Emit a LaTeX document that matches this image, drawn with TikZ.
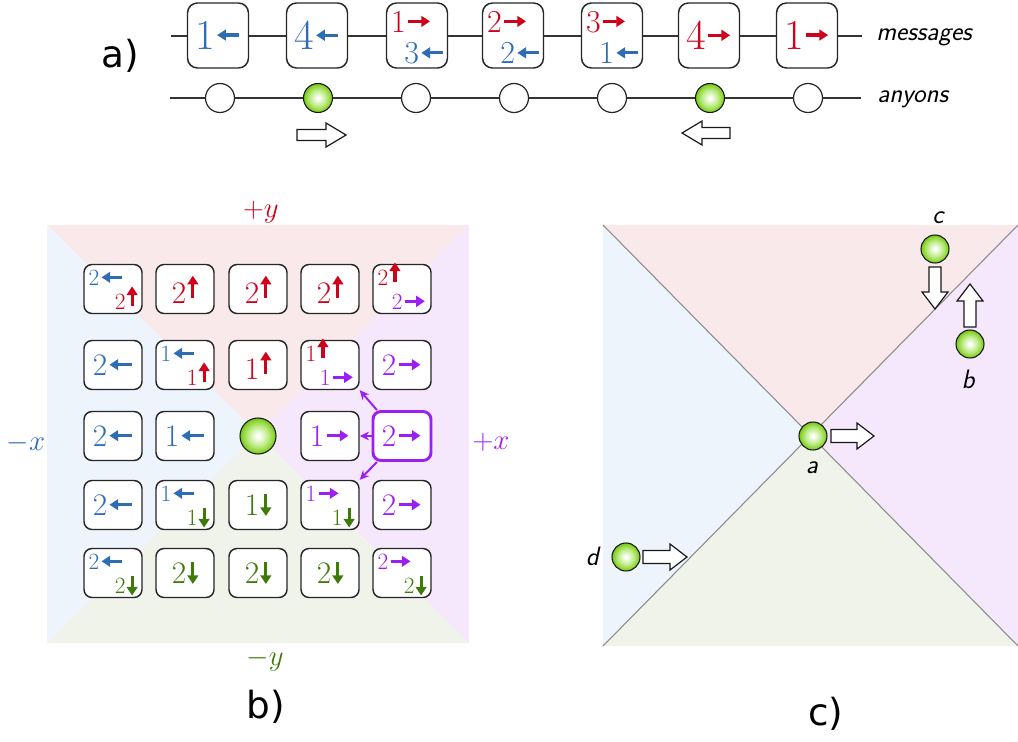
\documentclass[tikz,border=0pt]{standalone}
\usepackage{fontspec}
\newfontfamily\labfont{DejaVu Sans}
\usetikzlibrary{arrows.meta,calc}
\definecolor{cblue}{HTML}{2E6DB4}
\definecolor{cred}{HTML}{D0021B}
\definecolor{cpurple}{HTML}{9B1FF0}
\definecolor{cgreen}{HTML}{3E7A0A}
\definecolor{bgred}{HTML}{FAE9EA}
\definecolor{bgblue}{HTML}{EDF4FC}
\definecolor{bgpurple}{HTML}{F6E8FC}
\definecolor{bggreen}{HTML}{F0F3EA}
\definecolor{ballA}{HTML}{BDEB86}
\definecolor{ballB}{HTML}{8AD42C}
\definecolor{ballC}{HTML}{76C01E}
\definecolor{linegray}{HTML}{8C8C8C}
\pgfdeclareradialshading{anyonshade}{\pgfpoint{0bp}{0bp}}{color(0bp)=(white); color(2bp)=(white); color(14bp)=(ballA); color(22bp)=(ballB); color(25bp)=(ballC); color(50bp)=(ballC)}
\def\alen{16.5pt}
\tikzset{marr/.style={line width=2.4pt}}
\newcommand\mL[2]{{\color{#1}#2}\kern0.5pt\tikz[baseline=0pt]\draw[marr,draw=#1,-{Triangle[length=6.5pt,width=8pt,fill=#1]}] (\alen,0.34em) -- (0pt,0.34em);}
\newcommand\mR[2]{{\color{#1}#2}\kern0.5pt\tikz[baseline=0pt]\draw[marr,draw=#1,-{Triangle[length=6.5pt,width=8pt,fill=#1]}] (0pt,0.34em) -- (\alen,0.34em);}
\newcommand\mU[2]{{\color{#1}#2}\kern1pt\tikz[baseline=0pt]\draw[marr,draw=#1,-{Triangle[length=6.5pt,width=8pt,fill=#1]}] (0pt,{0.55em-0.5*\alen}) -- (0pt,{0.55em+0.5*\alen});}
\newcommand\mD[2]{{\color{#1}#2}\kern1pt\tikz[baseline=0pt]\draw[marr,draw=#1,-{Triangle[length=6.5pt,width=8pt,fill=#1]}] (0pt,{0.33em+0.5*\alen}) -- (0pt,{0.33em-0.5*\alen});}
\newcommand\fA{\fontsize{32}{32}\selectfont}
\newcommand\fa{\fontsize{24}{24}\selectfont}
\newcommand\fB{\fontsize{23.5}{23.5}\selectfont}
\newcommand\fb{\fontsize{17.5}{17.5}\selectfont\def\alen{15pt}}
\newcommand\axl[1]{\scalebox{1.25}{$#1$}}
\tikzset{
  wire/.style={draw=black!80, line width=0.9pt},
  boxA/.style={draw=black!85, line width=1.1pt, fill=white, rounded corners=7.5pt, minimum width=45.75pt, minimum height=48.75pt, inner sep=0pt},
  boxB/.style={draw=black!85, line width=1.1pt, fill=white, rounded corners=6pt, minimum width=43.5pt, minimum height=36.75pt, inner sep=0pt},
  hibox/.style={boxB, draw=cpurple, line width=2.2pt},
  txt/.style={inner sep=0pt, anchor=center},
  emptyan/.style={circle, draw=black!85, line width=0.9pt, fill=white, inner sep=0pt, minimum size=21.75pt},
  anyon/.style={circle, draw=black!90, line width=0.8pt, shade, shading=anyonshade, inner sep=0pt, minimum size=#1},
  lab/.style={inner sep=0pt, font={\fontsize{20}{20}\selectfont\sffamily\itshape}},
  panel/.style={inner sep=0pt, font={\labfont\fontsize{28}{28}\selectfont}},
  axis/.style={inner sep=0pt, anchor=base, font={\fontsize{17.28}{17.28}\selectfont}},
  parr/.style={draw=cpurple, line width=1.5pt, -{Stealth[length=7pt,width=6.5pt]}},
  glines/.style={draw=linegray, line width=0.8pt},
  pics/barrow/.style n args={4}{code={
    \draw[fill=white, draw=black!90, line width=0.9pt, line join=miter]
      (0,-#2) -- ({#1-#4},-#2) -- ({#1-#4},-#3) -- (#1,0) -- ({#1-#4},#3) -- ({#1-#4},#2) -- (0,#2) -- cycle;}}
}
\newcommand\one[2]{\node[txt] (#1t) at (#1) {\fB #2};}
\newcommand\two[3]{\node[txt,anchor=base west] (#1f) at ($(#1.north west)+(5,21.5)$) {\fb #2};
  \node[txt,anchor=base east] (#1s) at ($(#1.south east)+(-5,-5)$) {\fb #3};}
\begin{document}
\begin{tikzpicture}[x=0.75pt,y=-0.75pt]
\useasboundingbox (0,0) rectangle (1018,742);
% ---------------- panel a
\node[panel, anchor=base] (pa) at (120,68) {a)};
\coordinate (msL) at (171,36); \coordinate (msR) at (862,36);
\draw[wire] (msL) -- (msR);
\coordinate (anL) at (170,98); \coordinate (anR) at (861,98);
\draw[wire] (anL) -- (anR);
\foreach \i/\x in {1/218,2/317,3/417,4/513,5/612,6/709,7/807}
  \node[boxA] (m\i) at (\x,35.5) {};
\foreach \i/\x in {1/220,3/416,4/514,5/612,7/808}
  \node[emptyan] (n\i) at (\x,98) {};
\node[anyon=21.75pt] (n2) at (318,98) {};
\node[anyon=21.75pt] (n6) at (710,98) {};
\node[txt] (t1) at (m1) {\fA\mL{cblue}{1}};
\node[txt] (t2) at (m2) {\fA\mL{cblue}{4}};
\node[txt,anchor=base west] (t3a) at ($(m3.north west)+(5,30)$) {\fa\mR{cred}{1}};
\node[txt,anchor=base east] (t3b) at ($(m3.south east)+(-3,-5)$) {\fa\mL{cblue}{3}};
\node[txt,anchor=base west] (t4a) at ($(m4.north west)+(5,30)$) {\fa\mR{cred}{2}};
\node[txt,anchor=base east] (t4b) at ($(m4.south east)+(-3,-5)$) {\fa\mL{cblue}{2}};
\node[txt,anchor=base west] (t5a) at ($(m5.north west)+(5,30)$) {\fa\mR{cred}{3}};
\node[txt,anchor=base east] (t5b) at ($(m5.south east)+(-3,-5)$) {\fa\mL{cblue}{1}};
\node[txt] (t6) at (m6) {\fA\mR{cred}{4}};
\node[txt] (t7) at (m7) {\fA\mR{cred}{1}};
\node[lab, anchor=base west] (lmsg) at (876,41) {messages};
\node[lab, anchor=base west] (lany) at (877,103) {anyons};
\pic at (297,135) {barrow={49}{5.5}{12}{20}};
\pic[rotate=180] at (730,133) {barrow={48}{5.5}{12}{20}};
% ---------------- panel b
\fill[bgred] (47,225) -- (469,225) -- (258,434) -- cycle;
\fill[bgblue] (47,225) -- (47,643) -- (258,434) -- cycle;
\fill[bgpurple] (469,225) -- (469,643) -- (258,434) -- cycle;
\fill[bggreen] (47,643) -- (469,643) -- (258,434) -- cycle;
\foreach \r/\y in {1/289,2/365,3/436,4/505,5/573}{
  \foreach \c/\x in {1/113,2/185,3/258,4/330,5/402}{
    \ifnum\r\c=33 \else\ifnum\r\c=35 \else
      \node[boxB] (b\r\c) at (\x,\y) {};
    \fi\fi
  }
}
\node[hibox] (b35) at (402,436) {};
\node[anyon=27pt] (b33) at (258,436) {};
% row 1
\two{b11}{\mL{cblue}{2}}{\mU{cred}{2}}
\one{b12}{\mU{cred}{2}}
\one{b13}{\mU{cred}{2}}
\one{b14}{\mU{cred}{2}}
\two{b15}{\mU{cred}{2}}{\mR{cpurple}{2}}
% row 2
\one{b21}{\mL{cblue}{2}}
\two{b22}{\mL{cblue}{1}}{\mU{cred}{1}}
\one{b23}{\mU{cred}{1}}
\two{b24}{\mU{cred}{1}}{\mR{cpurple}{1}}
\one{b25}{\mR{cpurple}{2}}
% row 3
\one{b31}{\mL{cblue}{2}}
\one{b32}{\mL{cblue}{1}}
\one{b34}{\mR{cpurple}{1}}
\one{b35}{\mR{cpurple}{2}}
% row 4
\one{b41}{\mL{cblue}{2}}
\two{b42}{\mL{cblue}{1}}{\mD{cgreen}{1}}
\one{b43}{\mD{cgreen}{1}}
\two{b44}{\mR{cpurple}{1}}{\mD{cgreen}{1}}
\one{b45}{\mR{cpurple}{2}}
% row 5
\two{b51}{\mL{cblue}{2}}{\mD{cgreen}{2}}
\one{b52}{\mD{cgreen}{2}}
\one{b53}{\mD{cgreen}{2}}
\one{b54}{\mD{cgreen}{2}}
\two{b55}{\mR{cpurple}{2}}{\mD{cgreen}{2}}
% purple arrows
\draw[parr] (b35.134) -- (b24.south east);
\draw[parr] (b35.west) -- (b34.east);
\draw[parr] (b35.226) -- (b44.north east);
% axis labels
\node[axis, text=cred] (py) at (261,217) {\axl{+y}};
\node[axis, text=cgreen] (my) at (265,665) {\axl{-y}};
\node[axis, text=cblue] (mx) at (26,450) {\axl{-x}};
\node[axis, text=cpurple] (px) at (491,449) {\axl{+x}};
\node[panel, anchor=base] (pb) at (266,718) {b)};
% ---------------- panel c
\coordinate (cTL) at (603,225); \coordinate (cTR) at (1018,225);
\coordinate (cBL) at (603,646); \coordinate (cBR) at (1018,646);
\coordinate (cO) at (810.5,435.5);
\fill[bgred] (cTL) -- (cTR) -- (cO) -- cycle;
\fill[bgblue] (cTL) -- (cBL) -- (cO) -- cycle;
\fill[bgpurple] (cTR) -- (cBR) -- (cO) -- cycle;
\fill[bggreen] (cBL) -- (cBR) -- (cO) -- cycle;
\draw[glines] (cTL) -- (cO) -- (cBR);
\draw[glines] (cTR) -- (cO) -- (cBL);
\node[anyon=21pt] (ca) at (813,436) {};
\node[anyon=21pt] (cb) at (970,344) {};
\node[anyon=21pt] (cc) at (935,249) {};
\node[anyon=21pt] (cd) at (626,557) {};
\node[lab, anchor=base] (la) at (812,473) {a};
\node[lab, anchor=base] (lb) at (968,388) {b};
\node[lab, anchor=base] (lc) at (938,223) {c};
\node[lab, anchor=base east] (ld) at (599,565) {d};
\pic at (831,436) {barrow={43}{6.5}{13}{17}};
\pic[rotate=-90] at (935,267) {barrow={42}{6}{13}{17}};
\pic[rotate=90] at (970,327) {barrow={43}{6}{13}{17}};
\pic at (643,557) {barrow={44}{6.5}{13}{17}};
\node[panel, anchor=base] (pc) at (826,725) {c)};
\end{tikzpicture}
\end{document}
